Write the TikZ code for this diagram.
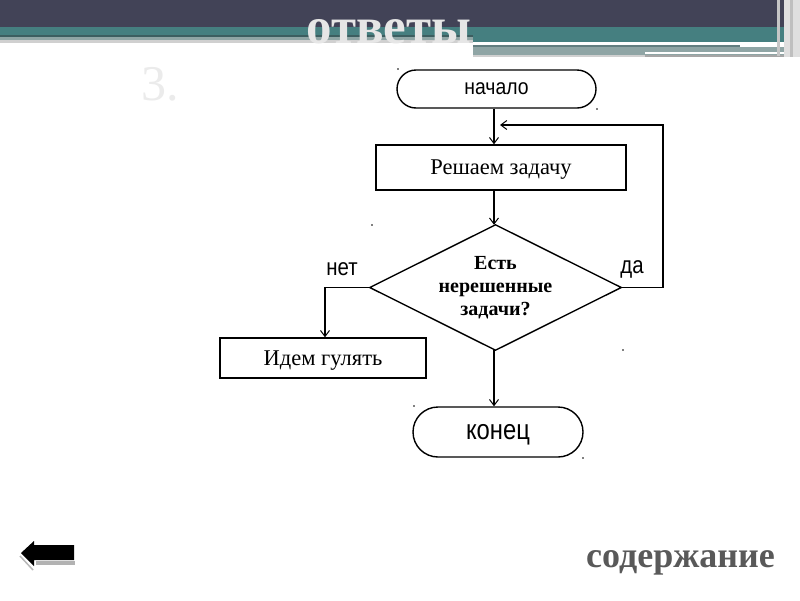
\documentclass[tikz,border=0pt]{standalone}
\usepackage{fontspec}
\setmainfont{Liberation Serif}
\newfontfamily\nsans[FakeStretch=0.85]{Liberation Sans}
\newfontfamily\msans[FakeStretch=0.88]{Liberation Sans}
\usetikzlibrary{shapes.geometric,shapes.misc,arrows.meta}
\definecolor{hdark}{HTML}{424357}
\definecolor{hteal}{HTML}{457F80}
\definecolor{hline}{HTML}{3C5E60}
\definecolor{hgray}{HTML}{8FA5A5}
\definecolor{hlight}{HTML}{D0D0D0}
\definecolor{titlecol}{HTML}{E6E6E6}
\definecolor{contcol}{HTML}{595959}
\tikzset{
  term/.style={draw, rounded rectangle, line width=1.4pt, inner sep=0pt, text depth=0pt},
  proc/.style={draw, rectangle, line width=1.4pt, inner sep=0pt, text depth=0pt, font=\fontsize{22.5}{22.5}\selectfont},
  decide/.style={rectangle, inner sep=0pt, align=center,
     font=\bfseries\fontsize{20}{23}\selectfont},
  lbl/.style={font=\nsans\fontsize{24}{24}\selectfont, inner sep=0pt},
  flow/.style={line width=1.4pt, -{Straight Barb[length=6pt,width=9pt,line width=1pt]}},
}
\begin{document}
\begin{tikzpicture}[x=1pt,y=-1pt]
\useasboundingbox (0,0) rectangle (800,600);
\fill[white] (0,0) rectangle (800,600);
% header bands
\fill[hdark] (0,0) rectangle (800,27);
\fill[hteal] (0,27) rectangle (800,35);
\fill[hline] (0,35) rectangle (473,37);
\fill[hgray] (0,37) rectangle (473,40);
\fill[hlight] (0,40) rectangle (473,43);
\fill[hteal] (473,35) rectangle (790,42);
\fill[white] (473,42) rectangle (740,45);
\fill[hline!80] (473,45) rectangle (740,47);
\fill[hgray] (473,47) rectangle (790,55);
\fill[white] (645,52) rectangle (785,54);
\fill[gray!70] (645,55) rectangle (790,57);
\fill[hlight] (473,55) rectangle (645,57);
\fill[gray!45] (777,0) rectangle (780,56);
\fill[gray!25] (784,0) rectangle (800,57);
\fill[gray!50] (790,0) rectangle (793,57);
% title
\node[text=titlecol, font=\bfseries\fontsize{51}{51}\selectfont, anchor=base, inner sep=0pt] (title) at (389,43) {ответы};
\node[text=gray!16, font=\fontsize{50}{50}\selectfont, anchor=base, inner sep=0pt] (num) at (160,100) {3.};
% flowchart
\coordinate (axis) at (494,0);
\coordinate (loopx) at (663,0);
\coordinate (loopin) at (500,125);
\node[term, minimum width=199pt, minimum height=38pt, font=\msans\fontsize{22}{22}\selectfont] (start) at (496.5,89) {начало};
\node[proc, minimum width=250pt, minimum height=45pt] (solve) at (501,167.5) {Решаем задачу};
\node[decide, minimum width=251pt, minimum height=125pt] (dec) at (495.5,287.5) {Есть\\нерешенные\\задачи?};
\draw[line width=1.4pt] (dec.north) -- (dec.east) -- (dec.south) -- (dec.west) -- cycle;
\node[proc, minimum width=206pt, minimum height=40pt] (walk) at (323,358) {Идем гулять};
\node[term, minimum width=170pt, minimum height=50pt, font=\nsans\fontsize{28}{28}\selectfont] (stop) at (498,432) {конец};
\node[lbl] (no) at (342,269) {нет};
\node[lbl] (yes) at (632,269) {да};
\draw[flow] (start.south -| axis) -- (solve.north -| axis);
\draw[flow] (solve.south -| axis) -- (dec.north -| axis);
\draw[flow] (dec.east) -- (dec.east -| loopx) |- (loopin);
\draw[flow] (dec.west) -| ([xshift=2pt]walk.north);
\draw[flow] (dec.south -| axis) -- (stop.north -| axis);
% selection handles
\foreach \p in {(398,69),(597,109),(372,225),(623,350),(414,406),(583,458)}
  \fill \p circle (0.9);
% back arrow
\draw[gray!55, line width=1.5pt] (20,556) -- (33,570);
\fill[gray!60] (36,561) rectangle (75,565);
\fill[black] (21,553) -- (34,541) -- (34,545) -- (74,545) -- (74,560) -- (34,560) -- (34,566) -- cycle;
\node[text=contcol, font=\bfseries\fontsize{36}{36}\selectfont, anchor=base east, inner sep=0pt] (toc) at (775,567) {содержание};
\end{tikzpicture}
\end{document}
